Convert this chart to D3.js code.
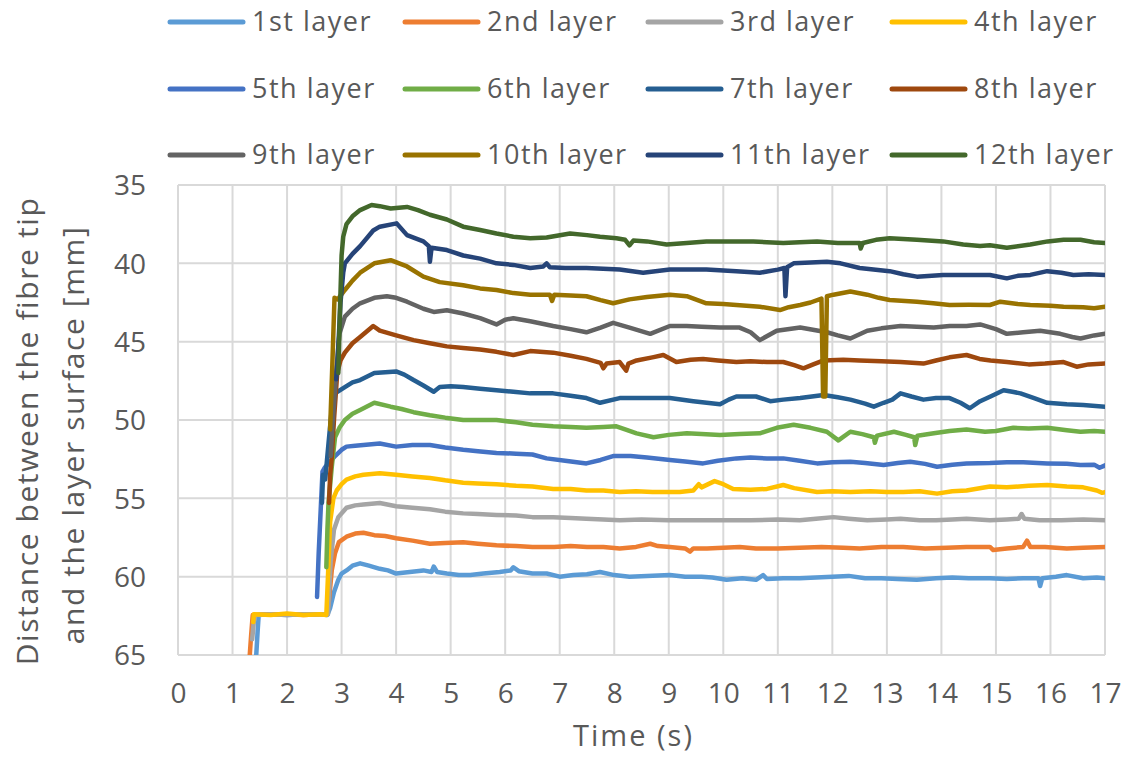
<!DOCTYPE html>
<html><head><meta charset="utf-8">
<script src="https://cdn.jsdelivr.net/npm/d3@7"></script>
<style>
html,body{margin:0;padding:0;background:#fff;}
text{font-family:"Open Sans",sans-serif;fill:#595959;}
</style></head>
<body>
<svg id="chart" width="1123" height="757"></svg>
<script>
// ---------- data ----------
const seriesNames = ["1st layer","2nd layer","3rd layer","4th layer","5th layer","6th layer","7th layer","8th layer","9th layer","10th layer","11th layer","12th layer"];
const seriesColors = ["#5B9BD5","#ED7D31","#A5A5A5","#FFC000","#4472C4","#70AD47","#255E91","#9E480E","#636363","#997300","#264478","#43682B"];
const xTicks = [0,1,2,3,4,5,6,7,8,9,10,11,12,13,14,15,16,17];
const yTicks = [35,40,45,50,55,60,65];

const layer1 = [[1.43,65.3],[1.46,63.5],[1.48,62.45],[1.7,62.4],[2.0,62.45],[2.3,62.4],[2.6,62.4],[2.74,62.45],[2.79,62.0],[2.86,61.0],[2.94,60.2],[3.0,59.8],[3.09,59.6],[3.2,59.3],[3.34,59.15],[3.5,59.3],[3.7,59.5],[3.85,59.6],[4.0,59.8],[4.25,59.7],[4.5,59.6],[4.65,59.7],[4.69,59.35],[4.75,59.7],[4.93,59.8],[5.15,59.9],[5.36,59.9],[5.6,59.8],[5.9,59.7],[6.1,59.6],[6.15,59.4],[6.25,59.65],[6.5,59.8],[6.76,59.8],[7.0,60.0],[7.25,59.9],[7.5,59.85],[7.74,59.7],[8.0,59.9],[8.28,60.0],[8.6,59.95],[9.02,59.9],[9.3,60.0],[9.6,60.0],[9.8,60.05],[10.06,60.2],[10.35,60.1],[10.6,60.2],[10.73,59.9],[10.8,60.15],[11.1,60.1],[11.4,60.1],[11.7,60.05],[12.0,60.0],[12.3,59.95],[12.6,60.1],[12.9,60.1],[13.2,60.15],[13.55,60.2],[13.9,60.1],[14.2,60.05],[14.5,60.1],[14.89,60.1],[15.2,60.15],[15.5,60.1],[15.78,60.1],[15.81,60.6],[15.85,60.1],[16.1,60.0],[16.3,59.9],[16.6,60.1],[16.85,60.05],[17,60.1]];
const layer2 = [[1.31,65.3],[1.34,63.8],[1.37,62.45],[1.7,62.4],[2.0,62.4],[2.3,62.45],[2.6,62.4],[2.73,62.4],[2.77,61.5],[2.82,59.6],[2.88,58.5],[2.95,57.8],[3.09,57.45],[3.25,57.25],[3.4,57.2],[3.6,57.35],[3.8,57.4],[4.0,57.55],[4.3,57.7],[4.62,57.9],[4.9,57.85],[5.23,57.8],[5.5,57.9],[5.84,58.0],[6.2,58.05],[6.5,58.1],[6.9,58.1],[7.2,58.05],[7.5,58.1],[7.8,58.1],[8.1,58.2],[8.4,58.1],[8.66,57.9],[8.8,58.05],[9.02,58.1],[9.3,58.2],[9.39,58.4],[9.45,58.2],[9.7,58.2],[10.0,58.15],[10.3,58.1],[10.6,58.2],[11.0,58.2],[11.4,58.15],[11.8,58.1],[12.2,58.15],[12.5,58.2],[12.9,58.1],[13.3,58.1],[13.7,58.2],[14.1,58.15],[14.46,58.1],[14.89,58.1],[14.95,58.3],[15.2,58.2],[15.5,58.1],[15.57,57.7],[15.63,58.1],[15.9,58.1],[16.3,58.2],[16.6,58.15],[17,58.1]];
const layer3 = [[1.36,64.0],[1.39,62.9],[1.41,62.45],[1.7,62.4],[2.0,62.45],[2.3,62.4],[2.6,62.4],[2.75,62.4],[2.8,59.0],[2.86,57.0],[2.94,56.2],[3.09,55.6],[3.25,55.45],[3.4,55.4],[3.7,55.3],[4.0,55.5],[4.3,55.6],[4.62,55.7],[4.9,55.85],[5.23,55.96],[5.5,56.0],[5.84,56.06],[6.2,56.1],[6.5,56.2],[6.88,56.2],[7.2,56.25],[7.49,56.3],[7.8,56.35],[8.1,56.4],[8.5,56.35],[9.0,56.4],[9.5,56.4],[10.0,56.4],[10.5,56.4],[11.0,56.35],[11.4,56.4],[11.7,56.3],[12.02,56.2],[12.3,56.3],[12.64,56.4],[13.0,56.35],[13.25,56.3],[13.6,56.4],[13.9,56.4],[14.2,56.35],[14.46,56.3],[14.89,56.4],[15.2,56.35],[15.42,56.3],[15.47,56.0],[15.52,56.3],[15.8,56.4],[16.2,56.4],[16.6,56.35],[17,56.4]];
const layer4 = [[1.38,62.9],[1.39,62.4],[1.7,62.45],[2.0,62.35],[2.3,62.45],[2.6,62.4],[2.72,62.45],[2.75,60.0],[2.79,56.5],[2.85,55.0],[2.91,54.5],[3.0,54.1],[3.09,53.8],[3.25,53.6],[3.4,53.5],[3.7,53.4],[4.0,53.5],[4.3,53.6],[4.62,53.7],[4.9,53.85],[5.23,54.0],[5.5,54.05],[5.84,54.1],[6.2,54.2],[6.5,54.25],[6.88,54.4],[7.2,54.4],[7.49,54.5],[7.8,54.5],[8.1,54.6],[8.4,54.55],[8.7,54.6],[9.0,54.6],[9.2,54.6],[9.45,54.5],[9.55,54.1],[9.6,54.3],[9.84,53.9],[10.0,54.1],[10.18,54.4],[10.5,54.45],[10.8,54.4],[11.1,54.15],[11.3,54.35],[11.72,54.6],[12.0,54.55],[12.33,54.6],[12.7,54.55],[13.0,54.6],[13.3,54.6],[13.6,54.55],[13.92,54.7],[14.2,54.55],[14.46,54.5],[14.89,54.25],[15.2,54.3],[15.6,54.2],[15.94,54.15],[16.3,54.25],[16.6,54.3],[16.85,54.5],[16.95,54.65],[17,54.6]];
const layer5 = [[2.55,61.3],[2.58,58.5],[2.62,55.5],[2.65,53.3],[2.7,53.0],[2.78,52.7],[2.88,52.3],[3.0,51.9],[3.09,51.7],[3.25,51.65],[3.4,51.6],[3.7,51.5],[4.0,51.7],[4.3,51.6],[4.62,51.6],[4.9,51.75],[5.23,51.9],[5.5,52.0],[5.84,52.1],[6.2,52.15],[6.5,52.2],[6.76,52.45],[7.1,52.6],[7.49,52.77],[7.75,52.55],[7.98,52.3],[8.3,52.3],[8.6,52.4],[9.02,52.55],[9.3,52.65],[9.63,52.77],[9.9,52.6],[10.24,52.45],[10.5,52.4],[10.8,52.45],[11.1,52.45],[11.4,52.6],[11.72,52.77],[12.0,52.7],[12.33,52.66],[12.6,52.75],[12.94,52.87],[13.2,52.75],[13.43,52.66],[13.7,52.8],[13.92,52.98],[14.2,52.85],[14.46,52.77],[14.89,52.75],[15.2,52.7],[15.5,52.7],[15.94,52.77],[16.3,52.8],[16.55,52.87],[16.8,52.85],[16.9,53.05],[17,52.9]];
const layer6 = [[2.72,59.4],[2.74,57.0],[2.76,55.3],[2.82,53.0],[2.88,51.1],[2.96,50.5],[3.06,50.0],[3.2,49.6],[3.34,49.36],[3.6,48.9],[3.9,49.15],[4.1,49.3],[4.32,49.5],[4.62,49.7],[4.9,49.85],[5.23,50.0],[5.5,50.0],[5.84,50.0],[6.2,50.15],[6.5,50.3],[6.88,50.4],[7.2,50.45],[7.49,50.5],[7.8,50.45],[8.04,50.4],[8.2,50.6],[8.41,50.85],[8.72,51.1],[9.0,50.95],[9.33,50.85],[9.6,50.9],[9.94,50.96],[10.3,50.9],[10.67,50.85],[10.98,50.5],[11.29,50.3],[11.6,50.5],[11.9,50.75],[12.11,51.3],[12.33,50.75],[12.55,50.9],[12.76,51.1],[12.78,51.45],[12.82,51.0],[13.13,50.75],[13.35,50.95],[13.5,51.1],[13.52,51.6],[13.56,51.0],[13.86,50.85],[14.15,50.7],[14.46,50.6],[14.8,50.75],[15.0,50.7],[15.32,50.5],[15.6,50.55],[15.94,50.5],[16.3,50.65],[16.55,50.75],[16.8,50.7],[17,50.75]];
const layer7 = [[2.64,55.3],[2.66,53.5],[2.7,53.8],[2.76,51.5],[2.82,49.3],[2.88,48.3],[3.06,47.9],[3.2,47.6],[3.34,47.45],[3.6,47.0],[4.0,46.9],[4.15,47.1],[4.32,47.45],[4.5,47.8],[4.69,48.2],[4.8,47.9],[5.0,47.85],[5.23,47.9],[5.54,48.0],[5.84,48.1],[6.15,48.2],[6.46,48.3],[6.88,48.3],[7.2,48.45],[7.49,48.6],[7.74,48.9],[8.1,48.6],[8.5,48.6],[9.02,48.6],[9.45,48.8],[9.94,49.0],[10.1,48.7],[10.24,48.5],[10.6,48.5],[10.86,48.8],[11.1,48.7],[11.41,48.6],[11.84,48.4],[12.1,48.55],[12.33,48.7],[12.6,48.95],[12.76,49.15],[12.94,48.9],[13.1,48.7],[13.25,48.3],[13.45,48.5],[13.67,48.7],[13.9,48.6],[14.15,48.6],[14.35,48.9],[14.52,49.25],[14.71,48.8],[14.9,48.5],[15.14,48.1],[15.3,48.2],[15.45,48.3],[15.7,48.6],[15.94,48.9],[16.3,49.0],[16.6,49.05],[17,49.15]];
const layer8 = [[2.77,55.3],[2.79,53.5],[2.82,52.4],[2.86,50.0],[2.92,47.0],[2.98,46.2],[3.06,45.7],[3.2,45.1],[3.34,44.7],[3.58,44.0],[3.7,44.3],[4.0,44.6],[4.32,44.9],[4.62,45.1],[4.93,45.3],[5.23,45.4],[5.54,45.5],[5.84,45.65],[6.15,45.85],[6.46,45.6],[6.88,45.7],[7.2,45.9],[7.49,46.1],[7.75,46.35],[7.8,46.7],[7.86,46.4],[8.1,46.3],[8.22,46.85],[8.26,46.4],[8.41,46.2],[8.7,46.0],[8.9,45.85],[9.14,46.3],[9.4,46.15],[9.63,46.1],[9.9,46.2],[10.24,46.3],[10.5,46.25],[10.8,46.3],[11.1,46.3],[11.3,46.5],[11.47,46.7],[11.65,46.45],[11.84,46.2],[12.2,46.15],[12.5,46.2],[12.9,46.25],[13.25,46.3],[13.67,46.4],[13.9,46.2],[14.15,46.0],[14.46,45.85],[14.7,46.1],[14.9,46.2],[15.2,46.3],[15.6,46.45],[15.9,46.4],[16.24,46.3],[16.48,46.6],[16.7,46.45],[17,46.4]];
const layer9 = [[2.8,52.3],[2.83,50.5],[2.9,47.0],[2.96,44.5],[3.06,43.4],[3.2,42.9],[3.34,42.55],[3.6,42.2],[3.83,42.1],[4.0,42.2],[4.2,42.45],[4.5,42.9],[4.69,43.1],[4.93,43.0],[5.23,43.2],[5.54,43.5],[5.84,43.9],[6.0,43.6],[6.15,43.5],[6.46,43.7],[6.88,44.0],[7.2,44.2],[7.49,44.4],[7.75,44.1],[7.98,43.8],[8.28,44.1],[8.66,44.5],[9.02,44.0],[9.33,44.0],[9.6,44.05],[9.94,44.1],[10.3,44.1],[10.5,44.4],[10.67,44.9],[10.98,44.3],[11.41,44.1],[11.9,44.4],[12.1,44.6],[12.33,44.8],[12.64,44.3],[12.9,44.15],[13.25,44.0],[13.55,44.05],[13.86,44.1],[14.15,44.0],[14.46,44.0],[14.71,43.9],[15.0,44.2],[15.2,44.5],[15.5,44.4],[15.81,44.3],[16.18,44.5],[16.4,44.7],[16.55,44.8],[16.8,44.6],[17,44.5]];
const layer10 = [[2.79,50.6],[2.83,46.5],[2.87,42.2],[2.93,42.3],[3.06,41.7],[3.2,41.1],[3.34,40.6],[3.6,40.0],[3.9,39.8],[4.2,40.2],[4.5,40.85],[4.8,41.2],[5.23,41.4],[5.54,41.6],[5.84,41.7],[6.15,41.9],[6.46,42.0],[6.82,42.0],[6.86,42.4],[6.9,42.0],[7.2,42.05],[7.49,42.1],[7.75,42.35],[7.98,42.55],[8.28,42.3],[8.6,42.15],[9.02,42.0],[9.33,42.1],[9.69,42.55],[10.0,42.6],[10.24,42.66],[10.67,42.77],[11.04,42.98],[11.2,42.8],[11.41,42.66],[11.6,42.5],[11.8,42.25],[11.83,48.5],[11.87,48.5],[11.9,42.1],[12.02,42.0],[12.33,41.8],[12.64,42.0],[12.85,42.2],[13.05,42.34],[13.55,42.45],[13.85,42.55],[14.15,42.66],[14.5,42.65],[14.89,42.66],[15.08,42.45],[15.4,42.6],[15.63,42.66],[16.0,42.7],[16.24,42.77],[16.6,42.8],[16.8,42.87],[17,42.77]];
const layer11 = [[2.9,47.4],[2.93,46.0],[2.98,42.5],[3.03,40.6],[3.06,40.0],[3.2,39.4],[3.34,38.9],[3.58,37.9],[3.7,37.66],[4.01,37.45],[4.2,38.2],[4.5,38.6],[4.6,38.9],[4.62,39.9],[4.65,39.0],[4.93,39.15],[5.23,39.5],[5.54,39.7],[5.84,40.0],[6.15,40.1],[6.46,40.3],[6.7,40.2],[6.76,40.0],[6.82,40.25],[7.1,40.3],[7.49,40.3],[8.1,40.4],[8.53,40.6],[9.02,40.4],[9.69,40.4],[10.24,40.5],[10.67,40.6],[11.0,40.4],[11.12,40.3],[11.14,42.1],[11.17,40.25],[11.29,40.0],[11.6,39.95],[11.9,39.9],[12.15,40.0],[12.5,40.3],[13.05,40.5],[13.3,40.7],[13.55,40.85],[14.03,40.74],[14.46,40.74],[14.89,40.74],[15.2,40.96],[15.4,40.8],[15.63,40.74],[15.94,40.5],[16.2,40.6],[16.42,40.74],[16.7,40.7],[17,40.74]];
const layer12 = [[2.94,47.0],[2.97,43.0],[3.0,39.5],[3.03,38.3],[3.09,37.5],[3.2,37.0],[3.34,36.6],[3.55,36.28],[3.7,36.35],[3.9,36.5],[4.2,36.4],[4.4,36.6],[4.62,36.9],[4.93,37.2],[5.23,37.66],[5.54,37.87],[5.84,38.1],[6.15,38.3],[6.46,38.4],[6.76,38.35],[7.19,38.1],[7.5,38.2],[7.74,38.3],[8.04,38.4],[8.2,38.5],[8.28,38.85],[8.35,38.55],[8.6,38.6],[8.96,38.8],[9.33,38.7],[9.69,38.6],[10.06,38.6],[10.55,38.6],[10.8,38.65],[11.1,38.7],[11.4,38.65],[11.72,38.6],[12.1,38.7],[12.5,38.7],[12.52,39.05],[12.56,38.7],[12.8,38.5],[13.05,38.4],[13.55,38.5],[14.03,38.6],[14.4,38.8],[14.71,38.9],[14.89,38.85],[15.2,39.0],[15.63,38.8],[15.95,38.6],[16.24,38.5],[16.55,38.5],[16.8,38.65],[17,38.7]];

const allLayers = [layer1,layer2,layer3,layer4,layer5,layer6,layer7,layer8,layer9,layer10,layer11,layer12];

// ---------- layout ----------
const svg = d3.select("#chart");
const plot = {left:178, right:1105, top:185, bottom:655};
const x = d3.scaleLinear().domain([0,17]).range([plot.left, plot.right]);
const y = d3.scaleLinear().domain([35,65]).range([plot.top, plot.bottom]);

svg.append("defs").append("clipPath").attr("id","clip")
  .append("rect").attr("x",plot.left).attr("y",plot.top)
  .attr("width",plot.right-plot.left).attr("height",plot.bottom-plot.top);

// gridlines
const grid = svg.append("g");
grid.selectAll("line.v").data(xTicks).join("line")
  .attr("x1",d=>x(d)).attr("x2",d=>x(d)).attr("y1",plot.top).attr("y2",plot.bottom)
  .attr("stroke","#d9d9d9").attr("stroke-width",2);
grid.selectAll("line.h").data(yTicks).join("line")
  .attr("x1",plot.left).attr("x2",plot.right).attr("y1",d=>y(d)).attr("y2",d=>y(d))
  .attr("stroke","#d9d9d9").attr("stroke-width",2);

// axes (labels only)
const xAxis = d3.axisBottom(x).tickValues(xTicks).tickSize(0).tickPadding(0).tickFormat(d3.format("d"));
const gx = svg.append("g").attr("transform",`translate(0,${plot.bottom})`).call(xAxis);
gx.select(".domain").remove();
gx.selectAll("text").attr("dy",0).attr("y",48).attr("font-size",28).attr("fill","#595959").attr("font-family","Open Sans");

const yAxis = d3.axisLeft(y).tickValues(yTicks).tickSize(0).tickPadding(0).tickFormat(d3.format("d"));
const gy = svg.append("g").attr("transform",`translate(${plot.left},0)`).call(yAxis);
gy.select(".domain").remove();
gy.selectAll("text").attr("x",-32).attr("dy","0.35em").attr("font-size",28).attr("fill","#595959").attr("font-family","Open Sans");

// lines
const line = d3.line().x(d=>x(d[0])).y(d=>y(d[1]));
const lines = svg.append("g").attr("clip-path","url(#clip)");
allLayers.forEach((data,i)=>{
  lines.append("path").datum(data)
    .attr("d",line).attr("fill","none")
    .attr("stroke",seriesColors[i]).attr("stroke-width",4.5)
    .attr("stroke-linejoin","round").attr("stroke-linecap","round");
});

// titles
svg.append("text").attr("x",(plot.left+plot.right)/2 - 8).attr("y",746)
  .attr("text-anchor","middle").attr("font-size",29).attr("letter-spacing",2).text("Time (s)");
svg.append("text").attr("transform","translate(38,431) rotate(-90)")
  .attr("text-anchor","middle").attr("font-size",30).attr("letter-spacing",1.6).text("Distance between the fibre tip");
svg.append("text").attr("transform","translate(84,435) rotate(-90)")
  .attr("text-anchor","middle").attr("font-size",30).attr("letter-spacing",1.6).text("and the layer surface  [mm]");

// legend
const colX = [170,405,648,892];
const rowY = [22,89,155];
const leg = svg.append("g");
seriesNames.forEach((name,i)=>{
  const cx = colX[i%4], cy = rowY[Math.floor(i/4)];
  leg.append("line").attr("x1",cx).attr("x2",cx+73).attr("y1",cy).attr("y2",cy)
    .attr("stroke",seriesColors[i]).attr("stroke-width",5).attr("stroke-linecap","round");
  leg.append("text").attr("x",cx+82).attr("y",cy).attr("dy","0.35em")
    .attr("font-size",27).attr("letter-spacing",1.5).text(name);
});
</script>
</body></html>
